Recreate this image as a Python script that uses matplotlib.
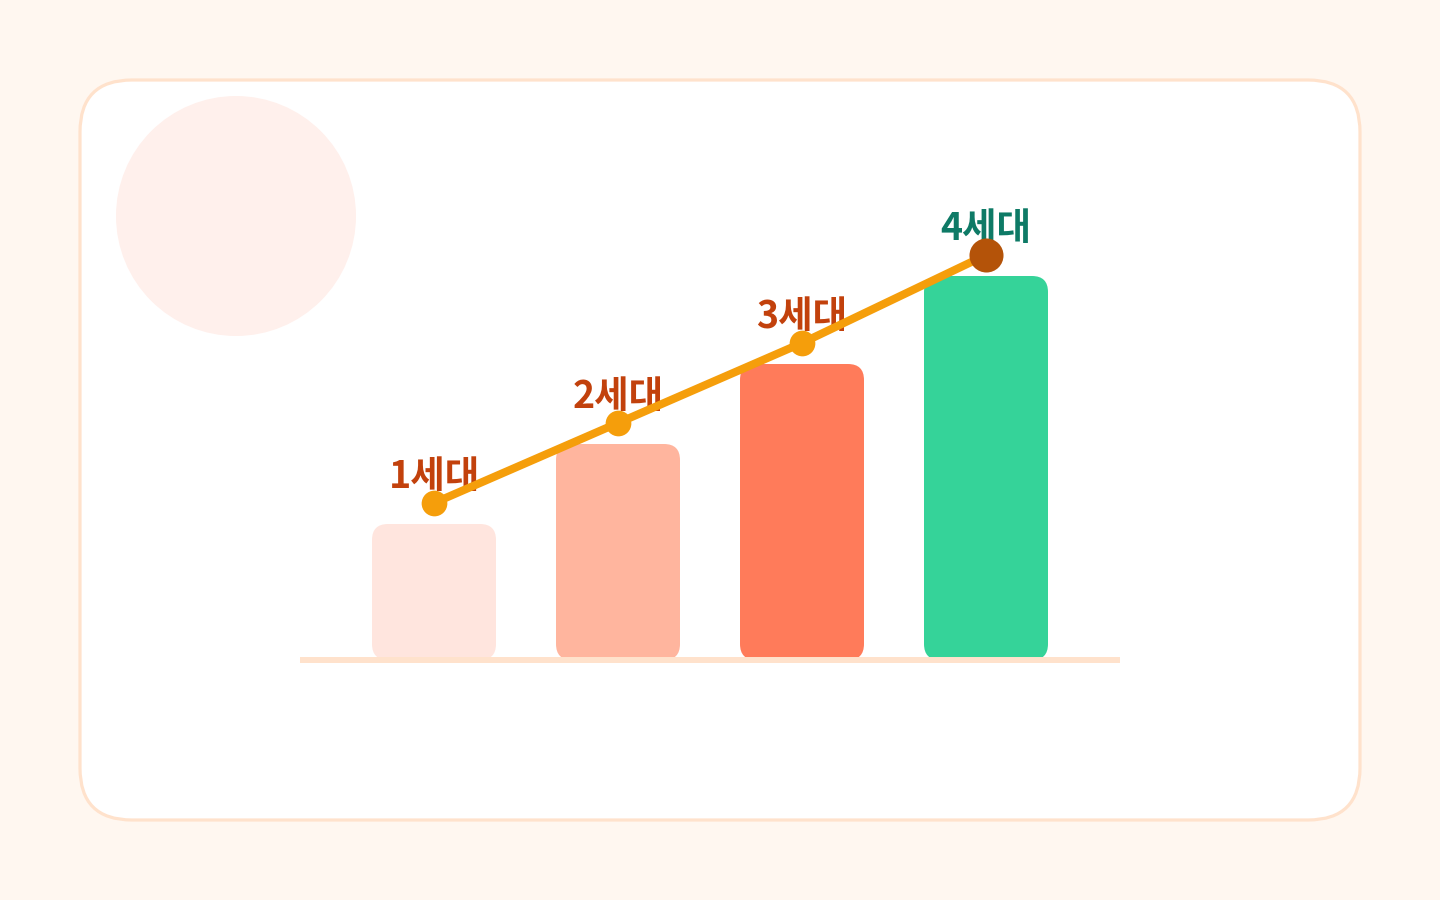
import matplotlib
matplotlib.use("Agg")
import matplotlib.pyplot as plt
from matplotlib.patches import FancyBboxPatch, Circle

# ---- data ----
categories = ["1세대", "2세대", "3세대", "4세대"]
bar_values = [34, 54, 74, 96]
trend_values = [39.25, 59.25, 79.25, 101.25]
bar_colors = ["#FFE5DE", "#FFB59E", "#FF7B5A", "#35D399"]
label_colors = ["#C2410C", "#C2410C", "#C2410C", "#0E7A66"]

plt.rcParams['font.family'] = ['Noto Sans CJK KR', 'DejaVu Sans']

W, H, DPI = 1440, 900, 100
fig = plt.figure(figsize=(W / DPI, H / DPI), dpi=DPI)
fig.patch.set_facecolor("#FFF7F0")

# decoration axes in pixel coordinates
bg = fig.add_axes([0, 0, 1, 1])
bg.set_xlim(0, W)
bg.set_ylim(H, 0)
bg.axis("off")
card = FancyBboxPatch((80, 80), 1280, 740,
                      boxstyle="round,pad=0,rounding_size=52",
                      facecolor="white", edgecolor="#FFE2CC", linewidth=2.3)
bg.add_patch(card)
bg.add_patch(Circle((236, 216), 120, facecolor="#FFF0EC", edgecolor="none"))

# data axes: spans x 300..1120 px, y baseline at 660 px, 4 px per unit
left_px, right_px = 300, 1120
base_px, top_px = 660, 160
ax = fig.add_axes([left_px / W, (H - base_px) / H,
                   (right_px - left_px) / W, (base_px - top_px) / H])
ax.set_facecolor("none")
ax.axis("off")
spacing = 184.0
x0 = (left_px - 434) / spacing
ax.set_xlim(x0, x0 + (right_px - left_px) / spacing)
ax.set_ylim(0, (base_px - top_px) / 4.0)

xs = list(range(len(categories)))
bar_w = 124 / spacing
px_per_x = spacing
px_per_y = 4.0
r_px = 16
aspect = px_per_x / px_per_y

for x, v, c in zip(xs, bar_values, bar_colors):
    p = FancyBboxPatch((x - bar_w / 2, 0), bar_w, v,
                       boxstyle=f"round,pad=0,rounding_size={r_px / px_per_x}",
                       mutation_aspect=aspect,
                       facecolor=c, edgecolor="none", zorder=2)
    ax.add_patch(p)

ax.axhline(0, color="#FFE2CC", linewidth=4.3, zorder=3, solid_capstyle="butt",
           clip_on=False)

ax.plot(xs, trend_values, color="#F59E0B", linewidth=5.8, zorder=5,
        solid_capstyle="round")
ax.plot(xs[:-1], trend_values[:-1], "o", color="#F59E0B", markersize=18.5,
        markeredgewidth=0, zorder=6)
ax.plot(xs[-1:], trend_values[-1:], "o", color="#B45309", markersize=24.5,
        markeredgewidth=0, zorder=6)

for x, v, lab, c in zip(xs, trend_values, categories, label_colors):
    ax.annotate(lab, (x, v), xytext=(0, 10.5), textcoords="offset points",
                ha="center", va="baseline", fontsize=27, fontweight="bold",
                color=c, zorder=4)

fig.savefig("out.png", dpi=DPI, facecolor=fig.get_facecolor())
